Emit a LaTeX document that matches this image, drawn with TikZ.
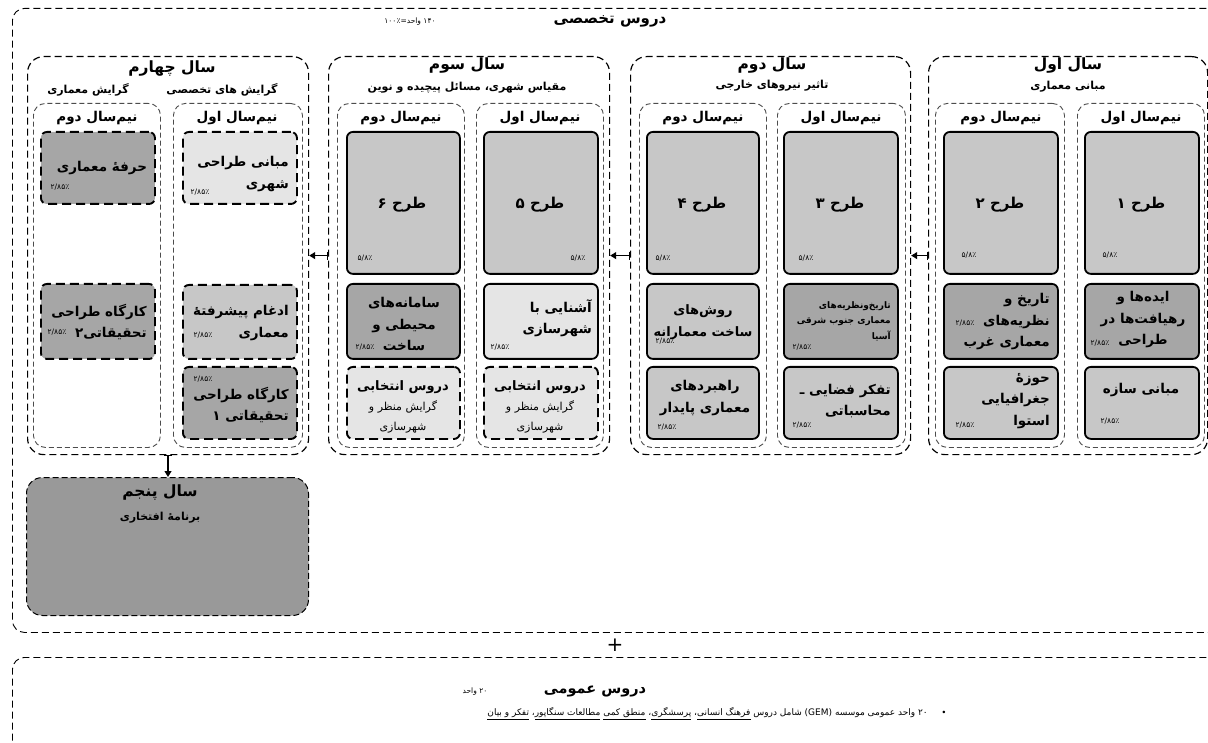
\documentclass[tikz,border=0pt]{standalone}
\usepackage{fontspec}
\usetikzlibrary{arrows.meta}
\newfontfamily\fa[Script=Arabic]{DejaVu Sans}
\TeXXeTstate=1
\newcommand{\rl}[1]{\beginR #1\endR}
\newcommand{\ulr}[1]{\underline{\beginR #1\endR}}
\newcommand{\boxat}[6]{\node[#1, anchor=north west, minimum width={#5-#3}, minimum height={#6-#4}, inner sep=0pt] (#2) at (#3,#4) {};}
\definecolor{gmid}{gray}{0.78}
\definecolor{gdark}{gray}{0.65}
\definecolor{glight}{gray}{0.9}
\definecolor{gfive}{gray}{0.6}
\begin{document}
\begin{tikzpicture}[x=1pt,y=-1pt,
  mainbox/.style={draw, line width=0.9pt, dash pattern=on 7pt off 4pt, rounded corners=12pt},
  yearbox/.style={draw, line width=1.2pt, dash pattern=on 7pt off 4pt, rounded corners=16pt},
  sembox/.style={draw=black!70, line width=0.9pt, dash pattern=on 5pt off 3pt, rounded corners=12pt},
  course/.style={draw, line width=1.8pt, rounded corners=6pt},
  dcourse/.style={draw, line width=1.9pt, dash pattern=on 9pt off 5pt, rounded corners=6pt},
  yfive/.style={draw, fill=gfive, line width=1pt, dash pattern=on 6pt off 3pt, rounded corners=16pt},
  ytitle/.style={font=\fa\bfseries\fontsize{15.5}{17}\selectfont, inner sep=0pt},
  ysub/.style={font=\fa\bfseries\fontsize{11}{13}\selectfont, inner sep=0pt},
  semtitle/.style={font=\fa\bfseries\fontsize{13.5}{15}\selectfont, inner sep=0pt},
  tarh/.style={font=\fa\bfseries\fontsize{15}{17}\selectfont, inner sep=0pt},
  ctext/.style={font=\fa\bfseries\fontsize{13.5}{21.5}\selectfont, inner sep=0pt},
  pct/.style={font=\fa\fontsize{7.5}{8}\selectfont, inner sep=0pt},
  eltext/.style={font=\fa\fontsize{11}{20}\selectfont, inner sep=0pt, align=center},
  arr/.style={line width=1.1pt, {Bar[width=8pt]}-{Triangle[length=6pt,width=7pt]}}
]
\useasboundingbox (0,0) rectangle (1208,743);
\clip (0,0) rectangle (1208,743);

% outer boxes
\boxat{mainbox}{main}{12}{8}{1240}{632}
\boxat{mainbox}{gen}{12}{657}{1240}{800}
\node[font=\fa\bfseries\fontsize{15}{16}\selectfont, inner sep=0pt] (maint) at (610,21) {\rl{دروس تخصصی}};
\node[pct] (mainu) at (410,22) {\rl{\beginL ۱۴۰\endL{} واحد=\beginL ۱۰۰٪\endL}};
\node[font=\fa\fontsize{20}{20}\selectfont, inner sep=0pt] (plus) at (615,645) {+};
\node[font=\fa\bfseries\fontsize{14.5}{16}\selectfont, inner sep=0pt] (gent) at (595,691) {\rl{دروس عمومی}};
\node[pct] (genu) at (475,692) {\rl{\beginL ۲۰\endL{} واحد}};
\node[font=\fa\fontsize{9}{10}\selectfont, inner sep=0pt, anchor=east] (genl) at (928,714) {\rl{\beginL ۲۰\endL{} واحد عمومی موسسه (\beginL GEM\endL) شامل دروس \ulr{فرهنگ انسانی}، \ulr{پرسشگری}، \ulr{منطق کمی} \ulr{مطالعات سنگاپور}، \ulr{تفکر و بیان}}};
\node[font=\fontsize{9}{10}\selectfont, inner sep=0pt] (bul) at (944,713) {\textbullet};

% year boxes
\boxat{yearbox}{y4}{27}{56}{308}{454}
\boxat{yearbox}{y3}{328}{56}{609}{454}
\boxat{yearbox}{y2}{630}{56}{910}{454}
\boxat{yearbox}{y1}{928}{56}{1207}{454}
\boxat{yfive}{y5}{26}{477}{308}{615}

% semester boxes
\boxat{sembox}{s42}{33}{103}{160}{447}
\boxat{sembox}{s41}{173}{103}{302}{447}
\boxat{sembox}{s32}{337}{103}{464}{447}
\boxat{sembox}{s31}{476}{103}{603}{447}
\boxat{sembox}{s22}{639}{103}{766}{447}
\boxat{sembox}{s21}{777}{103}{905}{447}
\boxat{sembox}{s12}{935}{103}{1064}{447}
\boxat{sembox}{s11}{1077}{103}{1204}{447}

% year titles
\node[ytitle] (t1) at (1068,66) {\rl{سال اول}};
\node[ysub] (u1) at (1068,87) {\rl{مبانی معماری}};
\node[ytitle] (t2) at (772,66) {\rl{سال دوم}};
\node[ysub] (u2) at (772,86) {\rl{تاثیر نیروهای خارجی}};
\node[ytitle] (t3) at (467,66) {\rl{سال سوم}};
\node[ysub] (u3) at (467,88) {\rl{مقیاس شهری، مسائل پیچیده و نوین}};
\node[ytitle] (t4) at (172,69) {\rl{سال چهارم}};
\node[ysub] (u4a) at (222,90) {\rl{گرایش های تخصصی}};
\node[ysub] (u4b) at (88,90) {\rl{گرایش معماری}};

% semester titles
\foreach \s/\x/\t in {s11/1141/اول,s12/1001/دوم,s21/841/اول,s22/703/دوم,s31/540/اول,s32/401/دوم,s41/237/اول,s42/97/دوم}{
  \node[semtitle] (h\s) at (\x,118) {\rl{نیم‌سال \t}};
}

% ---------- Year 1 ----------
\boxat{course, fill=gmid}{c11a}{1084}{131}{1198}{273}
\boxat{course, fill=gdark}{c11b}{1084}{283}{1198}{358}
\boxat{course, fill=gmid}{c11c}{1084}{366}{1198}{438}
\boxat{course, fill=gmid}{c12a}{943}{131}{1057}{273}
\boxat{course, fill=gdark}{c12b}{943}{283}{1057}{358}
\boxat{course, fill=gmid}{c12c}{943}{366}{1057}{438}
\node[tarh] (l11a) at (1141,205) {\rl{طرح ۱}};
\node[pct] (p11a) at (1110,255) {۵/۸٪};
\node[ctext, align=center] (l11b) at (1143,320) {\rl{ایده‌ها و}\\\rl{رهیافت‌ها در}\\\rl{طراحی}};
\node[pct] (p11b) at (1100,343) {۲/۸۵٪};
\node[ctext] (l11c) at (1141,390) {\rl{مبانی سازه}};
\node[pct] (p11c) at (1110,421) {۲/۸۵٪};
\node[tarh] (l12a) at (1000,205) {\rl{طرح ۲}};
\node[pct] (p12a) at (969,255) {۵/۸٪};
\node[ctext, align=right, anchor=east] (l12b) at (1050,322) {\rl{تاریخ و}\\\rl{نظریه‌های}\\\rl{معماری غرب}};
\node[pct] (p12b) at (965,323) {۲/۸۵٪};
\node[ctext, align=right, anchor=east] (l12c) at (1050,401) {\rl{حوزهٔ}\\\rl{جغرافیایی}\\\rl{استوا}};
\node[pct] (p12c) at (965,425) {۲/۸۵٪};

% ---------- Year 2 ----------
\boxat{course, fill=gmid}{c21a}{783}{131}{897}{273}
\boxat{course, fill=gdark}{c21b}{783}{283}{897}{358}
\boxat{course, fill=gmid}{c21c}{783}{366}{897}{438}
\boxat{course, fill=gmid}{c22a}{646}{131}{758}{273}
\boxat{course, fill=gmid}{c22b}{646}{283}{758}{358}
\boxat{course, fill=gmid}{c22c}{646}{366}{758}{438}
\node[tarh] (l21a) at (840,205) {\rl{طرح ۳}};
\node[pct] (p21a) at (806,258) {۵/۸٪};
\node[font=\fa\bfseries\fontsize{9}{15.5}\selectfont, inner sep=0pt, align=right, anchor=east] (l21b) at (891,321) {\rl{تاریخ‌ونظریه‌های}\\\rl{معماری جنوب شرقی}\\\rl{آسیا}};
\node[pct] (p21b) at (802,347) {۲/۸۵٪};
\node[ctext, align=right, anchor=east] (l21c) at (891,401) {\rl{تفکر فضایی ـ}\\\rl{محاسباتی}};
\node[pct] (p21c) at (802,425) {۲/۸۵٪};
\node[tarh] (l22a) at (702,205) {\rl{طرح ۴}};
\node[pct] (p22a) at (663,258) {۵/۸٪};
\node[ctext, align=center, font=\fa\bfseries\fontsize{13}{21.5}\selectfont] (l22b) at (703,322) {\rl{روش‌های}\\\rl{ساخت معمارانه}};
\node[pct] (p22b) at (665,341) {۲/۸۵٪};
\node[ctext, align=center] (l22c) at (705,398) {\rl{راهبردهای}\\\rl{معماری پایدار}};
\node[pct] (p22c) at (667,427) {۲/۸۵٪};

% ---------- Year 3 ----------
\boxat{course, fill=gmid}{c31a}{483}{131}{597}{273}
\boxat{course, fill=glight}{c31b}{483}{283}{597}{358}
\boxat{dcourse, fill=glight}{c31c}{483}{366}{597}{438}
\boxat{course, fill=gmid}{c32a}{346}{131}{459}{273}
\boxat{course, fill=gdark}{c32b}{346}{283}{459}{358}
\boxat{dcourse, fill=glight}{c32c}{346}{366}{459}{438}
\node[tarh] (l31a) at (540,205) {\rl{طرح ۵}};
\node[pct] (p31a) at (578,258) {۵/۸٪};
\node[ctext, align=right, anchor=east] (l31b) at (592,318) {\rl{آشنایی با}\\\rl{شهرسازی}};
\node[pct] (p31b) at (500,347) {۲/۸۵٪};
\node[eltext] (l31c) at (540,407) {{\bfseries\fontsize{13}{14}\selectfont\rl{دروس انتخابی}}\\\rl{گرایش منظر و}\\\rl{شهرسازی}};
\node[tarh] (l32a) at (402,205) {\rl{طرح ۶}};
\node[pct] (p32a) at (365,258) {۵/۸٪};
\node[ctext, align=center] (l32b) at (404,324) {\rl{سامانه‌های}\\\rl{محیطی و}\\\rl{ساخت}};
\node[pct] (p32b) at (365,347) {۲/۸۵٪};
\node[eltext] (l32c) at (403,407) {{\bfseries\fontsize{13}{14}\selectfont\rl{دروس انتخابی}}\\\rl{گرایش منظر و}\\\rl{شهرسازی}};

% ---------- Year 4 ----------
\boxat{dcourse, fill=glight}{c41a}{182}{131}{296}{203}
\boxat{dcourse, fill=gmid}{c41b}{182}{284}{296}{358}
\boxat{dcourse, fill=gdark}{c41c}{182}{366}{296}{438}
\boxat{dcourse, fill=gdark}{c42a}{40}{131}{154}{203}
\boxat{dcourse, fill=gdark}{c42b}{40}{283}{154}{358}
\node[ctext, align=right, anchor=east] (l41a) at (289,174) {\rl{مبانی طراحی}\\\rl{شهری}};
\node[pct] (p41a) at (200,192) {۲/۸۵٪};
\node[ctext, align=right, anchor=east] (l41b) at (289,323) {\rl{ادغام پیشرفتهٔ}\\\rl{معماری}};
\node[pct] (p41b) at (203,335) {۲/۸۵٪};
\node[pct] (p41c) at (203,379) {۲/۸۵٪};
\node[ctext, align=right, anchor=east] (l41c) at (289,405) {\rl{کارگاه طراحی}\\\rl{تحقیقاتی ۱}};
\node[ctext] (l42a) at (102,168) {\rl{حرفهٔ معماری}};
\node[pct] (p42a) at (60,187) {۲/۸۵٪};
\node[ctext, align=right, anchor=east] (l42b) at (147,322) {\rl{کارگاه طراحی}\\\rl{تحقیقاتی۲}};
\node[pct] (p42b) at (57,332) {۲/۸۵٪};

% ---------- Year 5 ----------
\node[ytitle] (t5) at (160,493) {\rl{سال پنجم}};
\node[ysub] (u5) at (160,518) {\rl{برنامهٔ افتخاری}};

% arrows
\draw[arr] (y1.west) -- (y2.east);
\draw[arr] (y2.west) -- (y3.east);
\draw[arr] (y3.west) -- (y4.east);
\coordinate (a5) at (168,0);
\draw[arr] (y4.south -| a5) -- (y5.north -| a5);
\end{tikzpicture}
\end{document}
